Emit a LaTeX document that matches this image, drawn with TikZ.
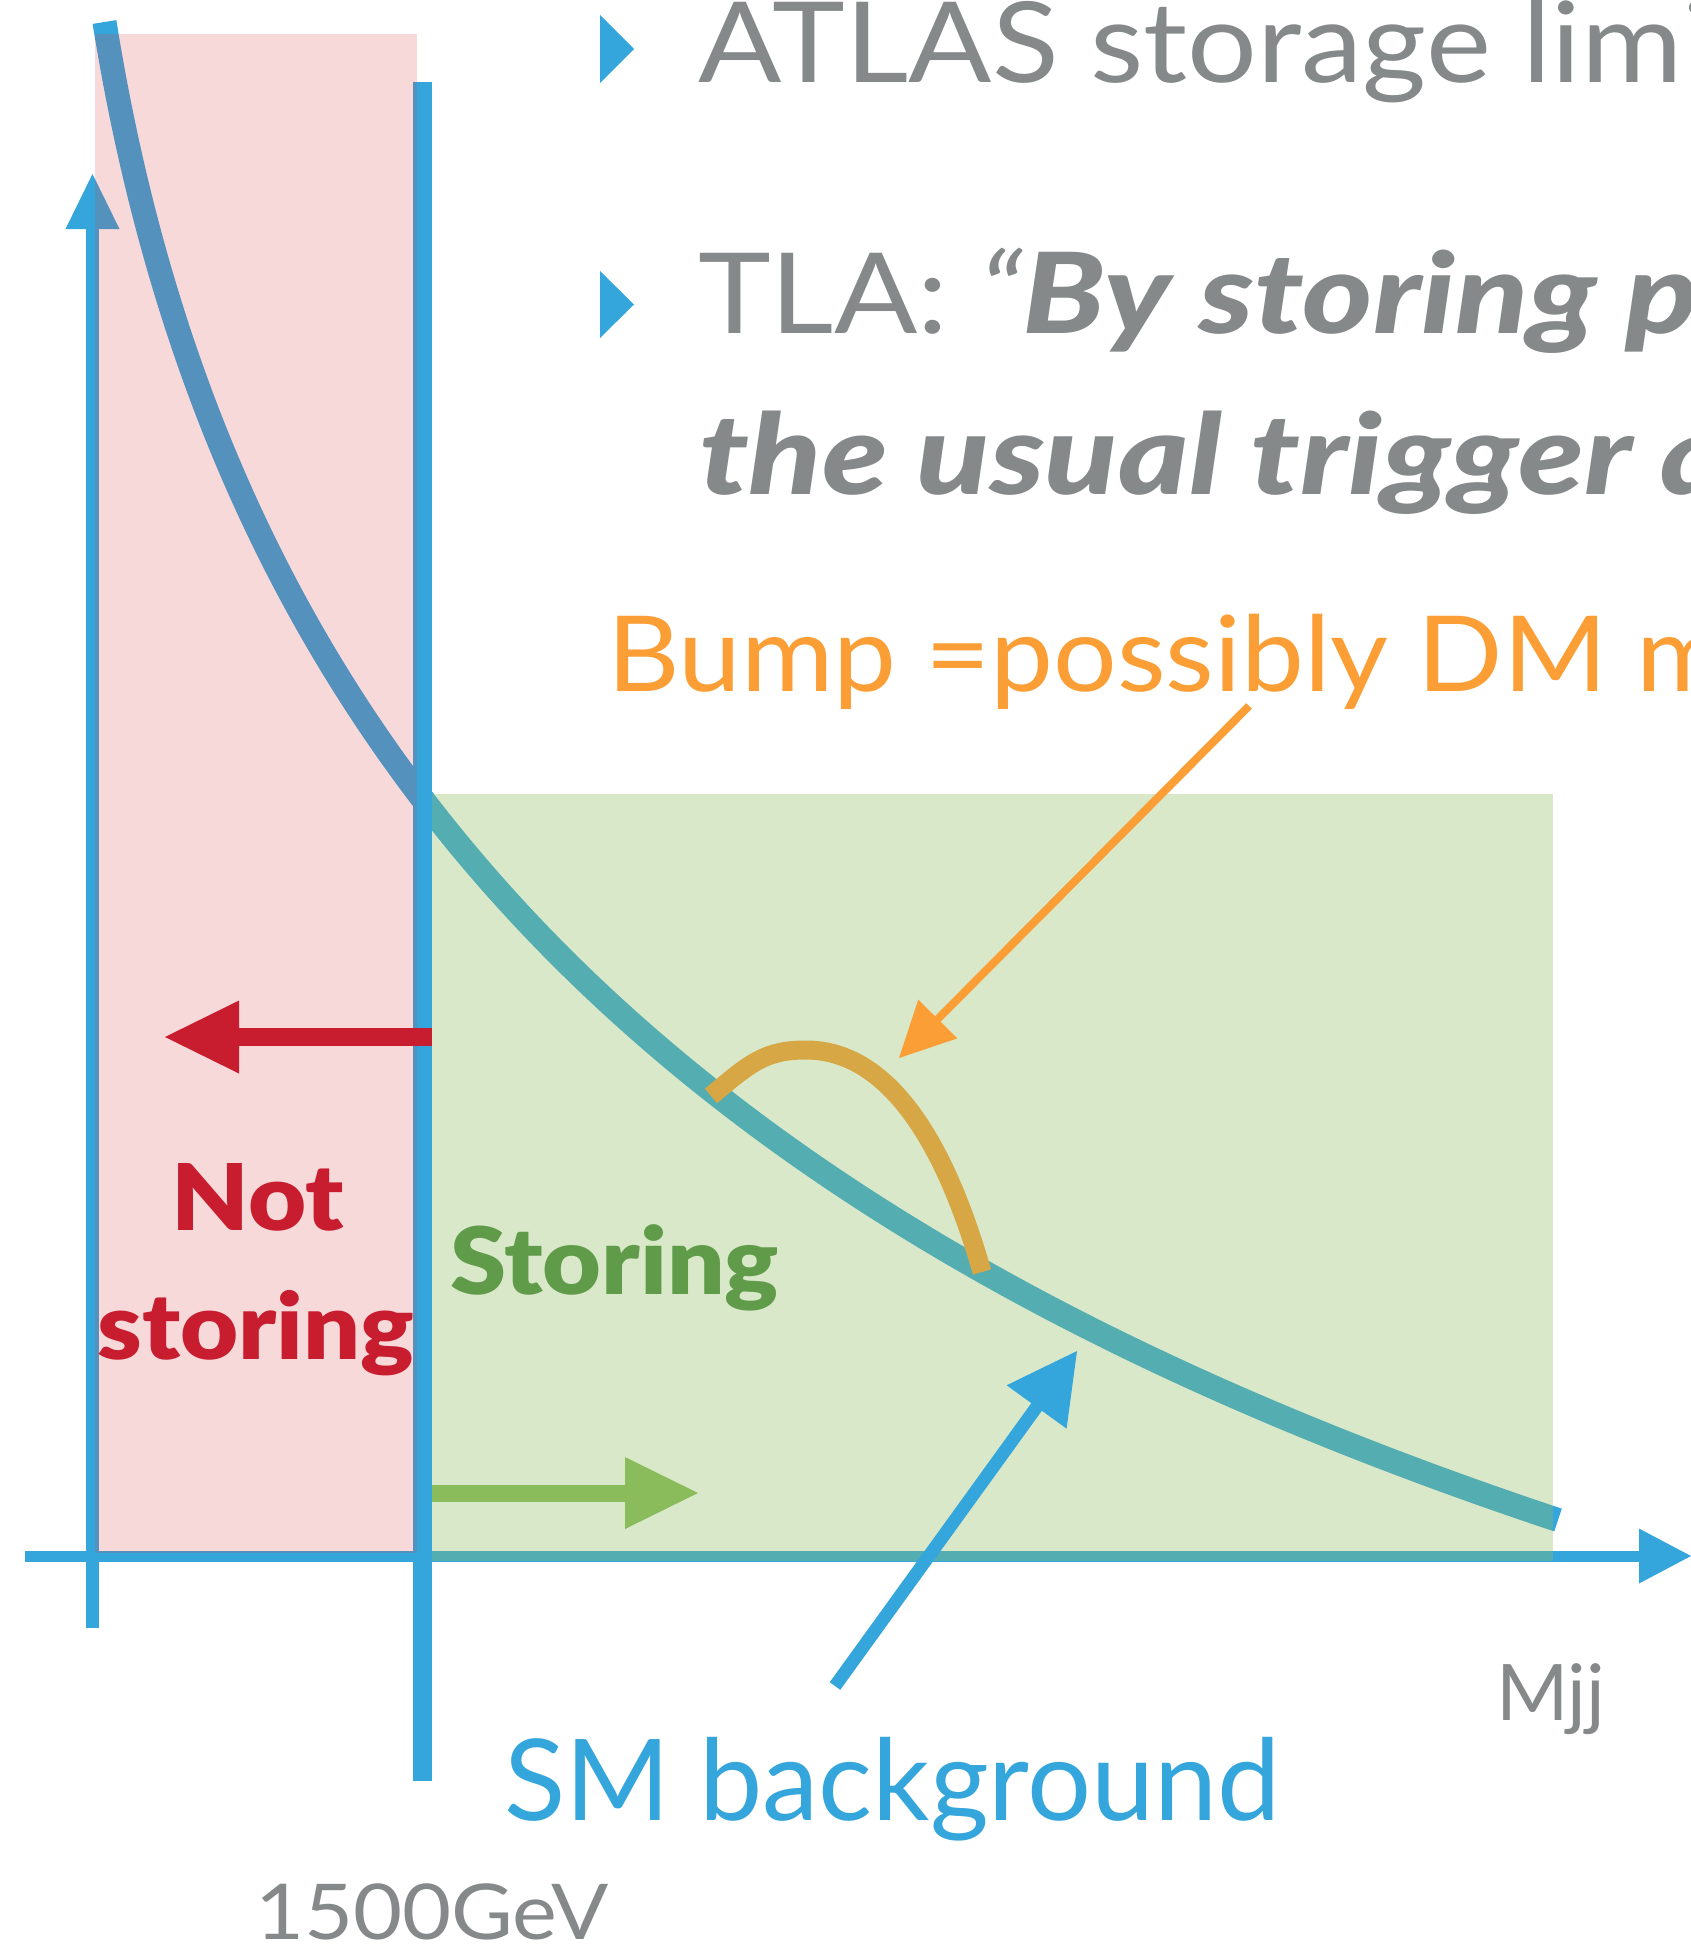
\documentclass[tikz,border=0pt]{standalone}
\usepackage{fontspec}
\setmainfont{Lato}[BoldFont={Lato Black},BoldItalicFont={Lato Black Italic}]
\newfontfamily\wreg{Lato}[FakeStretch=1.1]
\newfontfamily\wregb{Lato}[FakeStretch=1.07]
\newfontfamily\wit{Lato Italic}[FakeStretch=1.1]
\newfontfamily\wbold{Lato Black}[FakeStretch=1.09]
\newfontfamily\wbit{Lato Black Italic}[FakeStretch=1.2]
\usetikzlibrary{calc}
\definecolor{blueC}{RGB}{53,166,220}
\definecolor{grayT}{RGB}{134,137,137}
\definecolor{orangeC}{RGB}{251,158,54}
\definecolor{redC}{RGB}{199,29,46}
\definecolor{greenT}{RGB}{96,155,74}
\definecolor{greenA}{RGB}{139,188,92}
\definecolor{pinkO}{RGB}{218,55,60}
\definecolor{greenO}{RGB}{143,187,96}
\tikzset{
  txt/.style={inner sep=0pt, outer sep=0pt, anchor=base west},
  ctxt/.style={inner sep=0pt, outer sep=0pt, anchor=base},
  bluestroke/.style={draw=blueC},
}
\newcommand\arrowhd[5]{% color, start, tip, length, halfwidth
  \coordinate (hb) at ($(#3)!#4!(#2)$);
  \fill[#1] (#3) -- ($(hb)!#5!90:(#3)$) -- ($(hb)!#5!-90:(#3)$) -- cycle;}
\begin{document}
\begin{tikzpicture}[x=1pt,y=-1pt]
\useasboundingbox (0,0) rectangle (1691,1948);
\clip (0,0) rectangle (1691,1948);

% named points
\coordinate (yaxB) at (92.5,1628);
\coordinate (yaxT) at (92.5,174);
\coordinate (xaxL) at (25,1556);
\coordinate (xaxR) at (1691,1556);
\coordinate (cutT) at (422.5,82);
\coordinate (cutB) at (422.5,1781);
\coordinate (redS) at (432,1037);
\coordinate (redT) at (165,1037);
\coordinate (grnS) at (432,1493);
\coordinate (grnT) at (698,1493);
\coordinate (orS) at (1249,706);
\coordinate (orT) at (899,1058);
\coordinate (smS) at (835,1686);
\coordinate (smT) at (1077,1351);

% axes and cut line
\draw[bluestroke, line width=13pt] (yaxB) -- ($(yaxT)!53pt!(yaxB)$);
\arrowhd{blueC}{yaxB}{yaxT}{55pt}{27pt}
\draw[bluestroke, line width=11pt] (xaxL) -- ($(xaxR)!50pt!(xaxL)$);
\arrowhd{blueC}{xaxL}{xaxR}{52pt}{27.5pt}
\draw[bluestroke, line width=19pt] (cutT) -- (cutB);

% background curve and bump
\draw[bluestroke, line width=24pt] (104.5,22) .. controls (227.7,791.9) and (704,1235.6) .. (1558,1520);
\draw[orangeC, line width=19pt] (711,1096) .. controls (751,1062) and (766,1050) .. (806,1050)
  .. controls (860,1050) and (930,1090) .. (982,1272);

% region overlays
\fill[pinkO, opacity=0.19] (95,34) rectangle (417,1553);
\fill[greenO, opacity=0.34] (432,794) rectangle (1553,1561);

% arrows
\draw[redC, line width=18pt] (redS) -- ($(redT)!72pt!(redS)$);
\arrowhd{redC}{redS}{redT}{74pt}{36.5pt}
\draw[greenA, line width=17pt] (grnS) -- ($(grnT)!71pt!(grnS)$);
\arrowhd{greenA}{grnS}{grnT}{73pt}{36pt}
\draw[orangeC, line width=8pt] (orS) -- ($(orT)!53pt!(orS)$);
\arrowhd{orangeC}{orS}{orT}{55pt}{27.5pt}
\draw[blueC, line width=13pt] (smS) -- ($(smT)!67pt!(smS)$);
\arrowhd{blueC}{smS}{smT}{69pt}{37pt}

% bullets
\fill[blueC] (600,15) -- (634,49) -- (600,83) -- cycle;
\fill[blueC] (600,271) -- (634,304.5) -- (600,338) -- cycle;

% texts
\node[txt, text=grayT, font=\wreg\fontsize{112}{112}\selectfont] (line1) at (698,83) {ATLAS storage limi};
\node[txt, text=grayT, font=\fontsize{112}{112}\selectfont] (line2) at (698,333) {{\wreg TLA: }{\wit “}{\wbit By storing p}};
\node[txt, text=grayT, font=\wbit\fontsize{112}{112}\selectfont] (line3) at (699,494) {the usual trigger a};
\node[txt, text=orangeC, font=\wregb\fontsize{105}{105}\selectfont] (bumptxt) at (607,691) {Bump =possibly DM m};
\node[txt, text=blueC, font=\fontsize{113}{113}\selectfont] (smtxt) at (504,1820) {SM background};
\node[txt, text=grayT, font=\fontsize{78}{78}\selectfont] (mjj) at (1496,1720) {Mjj};
\node[txt, text=grayT, font=\wreg\fontsize{77}{77}\selectfont] (gev) at (255,1939) {1500GeV};
\node[ctxt, text=redC, font=\wbold\fontsize{92}{92}\selectfont] (nottxt) at (258,1230) {Not};
\node[ctxt, text=redC, font=\wbold\fontsize{92}{92}\selectfont] (nstortxt) at (256,1359) {storing};
\node[txt, text=greenT, font=\wbold\fontsize{93}{93}\selectfont] (stortxt) at (450,1294) {Storing};
\end{tikzpicture}
\end{document}
